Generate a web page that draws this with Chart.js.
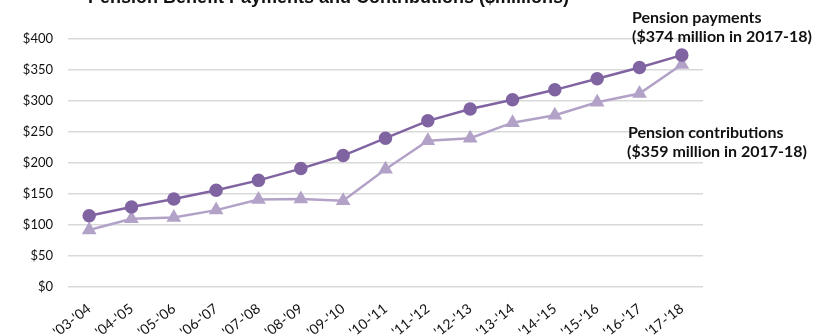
<!DOCTYPE html>
<html>
<head>
<meta charset="utf-8">
<script src="https://cdn.jsdelivr.net/npm/chart.js@4"></script>
<style>
  html, body { margin: 0; padding: 0; background: #fff; }
  #wrap { width: 830px; height: 336px; position: relative; }
</style>
</head>
<body>
<div id="wrap"><canvas id="pensionChart" width="830" height="336"></canvas></div>
<script>
// fiscal years
const years = ["'03-'04", "'04-'05", "'05-'06", "'06-'07", "'07-'08", "'08-'09", "'09-'10",
  "'10-'11", "'11-'12", "'12-'13", "'13-'14", "'14-'15", "'15-'16", "'16-'17", "'17-'18"];

// $ millions
const payments = [115, 129, 142, 156, 172, 191, 212, 240, 268, 287, 302, 318, 336, 354, 374];
const contributions = [92, 110, 112, 124, 141, 142, 139, 190, 236, 240, 265, 277, 298, 312, 359];

const yTicks = [0, 50, 100, 150, 200, 250, 300, 350, 400];

const FONT = 'Lato, "DejaVu Sans", sans-serif';

// title, slanted year labels and side notes drawn straight onto the canvas
const notesPlugin = {
  id: 'notes',
  afterDraw(chart) {
    const ctx = chart.ctx;
    const xs = chart.scales.x;
    ctx.save();
    ctx.fillStyle = '#111';
    ctx.font = 'bold 18px "Liberation Sans", Arial, sans-serif';
    ctx.textAlign = 'left';
    ctx.textBaseline = 'alphabetic';
    ctx.fillText('Pension Benefit Payments and Contributions ($millions)', 88, 3);

    // year labels, slanted up to the right
    ctx.font = '14px ' + FONT;
    ctx.textAlign = 'right';
    ctx.textBaseline = 'middle';
    years.forEach((lbl, i) => {
      const x = xs.getPixelForValue(i);
      ctx.save();
      ctx.translate(x, xs.top + 20);
      ctx.rotate(-38 * Math.PI / 180);
      ctx.fillText(lbl, 0, 0);
      ctx.restore();
    });

    ctx.font = 'bold 16px ' + FONT;
    ctx.textAlign = 'left';
    ctx.fillText('Pension payments', 632, 18);
    ctx.fillText('($374 million in 2017-18)', 632, 37);
    ctx.fillText('Pension contributions', 628, 133);
    ctx.fillText('($359 million in 2017-18)', 627, 152);
    ctx.restore();
  }
};

new Chart(document.getElementById('pensionChart'), {
  type: 'line',
  data: {
    labels: years,
    datasets: [
      {
        label: 'Pension payments',
        data: payments,
        borderColor: '#8064a2',
        backgroundColor: '#8064a2',
        borderWidth: 2.5,
        pointStyle: 'circle',
        pointRadius: 5.5,
        pointHoverRadius: 5.5
      },
      {
        label: 'Pension contributions',
        data: contributions,
        borderColor: '#b3a2c7',
        backgroundColor: '#b3a2c7',
        borderWidth: 2.5,
        pointStyle: 'triangle',
        pointRadius: 6,
        pointHoverRadius: 6
      }
    ]
  },
  options: {
    responsive: false,
    animation: false,
    layout: { padding: { top: 39, right: 127, bottom: 0, left: 0 } },
    plugins: {
      legend: { display: false },
      tooltip: { enabled: false },
      title: { display: false }
    },
    scales: {
      x: {
        offset: true,
        grid: { display: false, drawTicks: false },
        border: { display: false },
        ticks: { display: false },
        afterFit(scale) { scale.height = 49; }
      },
      y: {
        min: 0,
        max: 400,
        afterBuildTicks(scale) { scale.ticks = yTicks.map(v => ({ value: v })); },
        grid: { color: '#d9d9d9', lineWidth: 1.5, drawTicks: false },
        border: { display: false },
        ticks: {
          color: '#111',
          font: { family: FONT, size: 13 },
          padding: 15,
          callback: v => '$' + v
        },
        afterFit(scale) { scale.width = 68; }
      }
    }
  },
  plugins: [notesPlugin]
});
</script>
</body>
</html>
